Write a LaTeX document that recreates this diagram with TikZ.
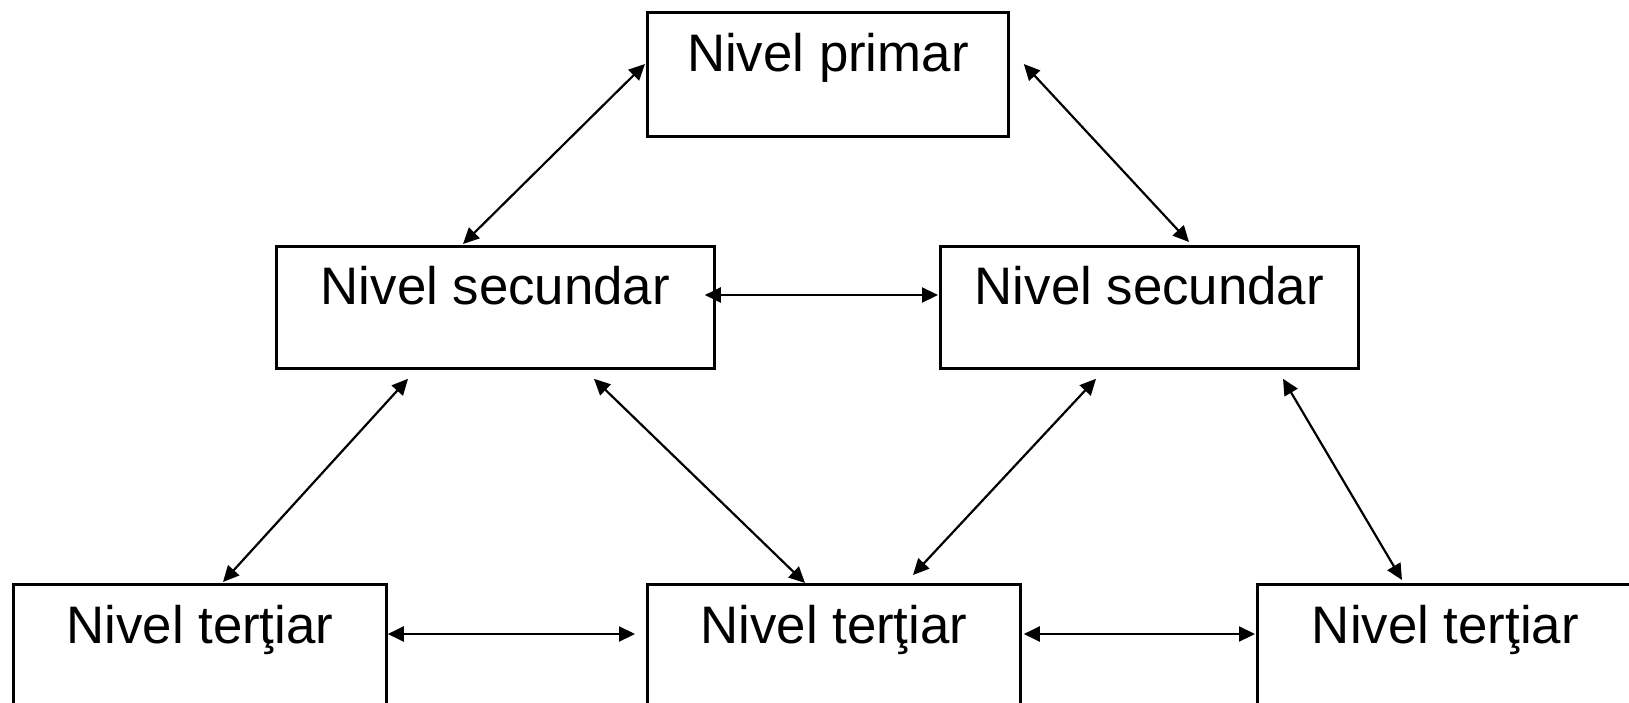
\documentclass[tikz,border=0pt]{standalone}
\usepackage{fontspec}
\setmainfont{Liberation Sans}
\usetikzlibrary{arrows.meta,calc}
\begin{document}
\begin{tikzpicture}[x=0.5pt,y=-0.5pt,
  box/.style={draw=black,line width=1.4pt,rectangle,inner sep=0pt,anchor=north west,
    font=\fontsize{26.4pt}{30pt}\selectfont},
  link/.style={line width=1.1pt,{Triangle[length=8pt,width=7.5pt]}-{Triangle[length=8pt,width=7.5pt]}}]
\clip (0,0) rectangle (1629,702);
\fill[white] (0,0) rectangle (1629,702);
% boxes
\node[box,minimum width=180.5pt,text height=29.5pt,text depth=32.5pt] (prim) at (646,11) {Nivel primar};
\node[box,minimum width=219pt,text height=29pt,text depth=32pt] (secL) at (275,245) {Nivel secundar};
\node[box,minimum width=209pt,text height=29pt,text depth=32pt] (secR) at (939,245) {Nivel secundar};
\node[box,minimum width=186.5pt,text height=29.5pt,text depth=34pt] (terL) at (12,583) {Nivel terţiar};
\node[box,minimum width=186.5pt,text height=29.5pt,text depth=34pt] (terM) at (646,583) {Nivel terţiar};
\node[box,minimum width=188pt,text height=29.5pt,text depth=34pt] (terR) at (1256,583) {Nivel terţiar};
% connectors
\draw[link] ($(prim.north west)+(-1,53)$) -- ($(secL.north west)+(188,-1)$);
\draw[link] ($(prim.north east)+(14,53)$) -- ($(secR.north west)+(250,-3)$);
\draw[link] ($(secL.north east)+(-11,50)$) -- ($(secR.north west)+(-1,50)$);
\draw[link] ($(secL.south west)+(133,9)$) -- ($(terL.north west)+(211,-1)$);
\draw[link] ($(secL.south west)+(319,9)$) -- ($(terM.north west)+(159,0)$);
\draw[link] ($(secR.south west)+(157,9)$) -- ($(terM.north west)+(267,-8)$);
\draw[link] ($(secR.south west)+(344,9)$) -- ($(terR.north west)+(146,-3)$);
\draw[link] ($(terL.north east)+(0,51)$) -- ($(terM.north west)+(-11,51)$);
\draw[link] ($(terM.north east)+(2,51)$) -- ($(terR.north west)+(-1,51)$);
\end{tikzpicture}
\end{document}
